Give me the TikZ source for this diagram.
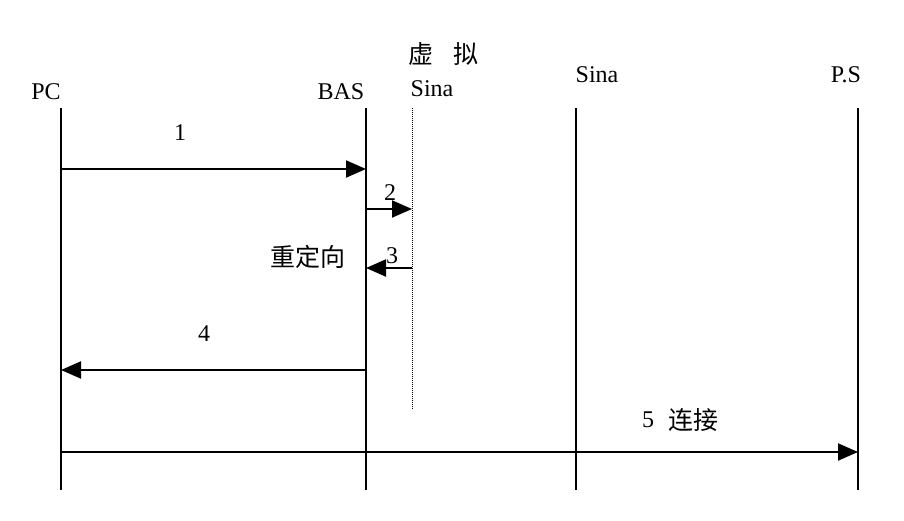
\documentclass[tikz,border=0pt]{standalone}
\usepackage{fontspec}
\setmainfont{Liberation Serif}
\newfontfamily\cjk{Noto Sans CJK SC}
\usetikzlibrary{arrows.meta}
\begin{document}
\begin{tikzpicture}[x=1pt,y=-1pt,
  lifeline/.style={line width=2pt},
  vline/.style={line width=1pt,densely dotted},
  msg/.style={line width=2pt,-{Triangle[length=20pt,width=17pt]}},
  lbl/.style={inner sep=0pt,font=\fontsize{24}{26}\selectfont},
  clbl/.style={inner sep=0pt,font=\cjk\fontsize{25}{28}\selectfont}]
\useasboundingbox (0,0) rectangle (904,520);
% lifelines
\coordinate (pcT) at (61,108);  \coordinate (pcB) at (61,490);
\coordinate (basT) at (366,108); \coordinate (basB) at (366,490);
\coordinate (vsT) at (412,108); \coordinate (vsB) at (412,410);
\coordinate (sT) at (576,108);  \coordinate (sB) at (576,490);
\coordinate (psT) at (858,108); \coordinate (psB) at (858,490);
\draw[lifeline] (pcT) -- (pcB);
\draw[lifeline] (basT) -- (basB);
\draw[vline] (vsT) -- (vsB);
\draw[lifeline] (sT) -- (sB);
\draw[lifeline] (psT) -- (psB);
% titles
\node[clbl,anchor=base] (tvs1) at (443,63) {虚\hspace{20pt}拟};
\node[lbl,anchor=base] (tpc) at (46,99) {PC};
\node[lbl,anchor=base] (tbas) at (341,99) {BAS};
\node[lbl,anchor=base] (tvs2) at (432,96) {Sina};
\node[lbl,anchor=base] (ts) at (597,82) {Sina};
\node[lbl,anchor=base] (tps) at (846,82) {P.S};
% message endpoints
\coordinate (m1a) at (61,169);  \coordinate (m1b) at (366,169);
\coordinate (m2a) at (366,209); \coordinate (m2b) at (412,209);
\coordinate (m3a) at (412,268); \coordinate (m3b) at (366,268);
\coordinate (m4a) at (366,370); \coordinate (m4b) at (61,370);
\coordinate (m5a) at (61,452);  \coordinate (m5b) at (858,452);
\draw[msg] (m1a) -- (m1b);
\draw[msg] (m2a) -- (m2b);
\draw[msg] (m3a) -- (m3b);
\draw[msg] (m4a) -- (m4b);
\draw[msg] (m5a) -- (m5b);
% labels
\node[lbl] (l1) at (180,133) {1};
\node[lbl] (l2) at (390,193) {2};
\node[lbl] (l3) at (392,256) {3};
\node[clbl] (lr) at (308,257) {重定向};
\node[lbl] (l4) at (204,334) {4};
\node[lbl,anchor=base] (l5) at (648,427) {5};
\node[clbl,anchor=base west] (l5c) at (668,429) {连接};
\end{tikzpicture}
\end{document}
